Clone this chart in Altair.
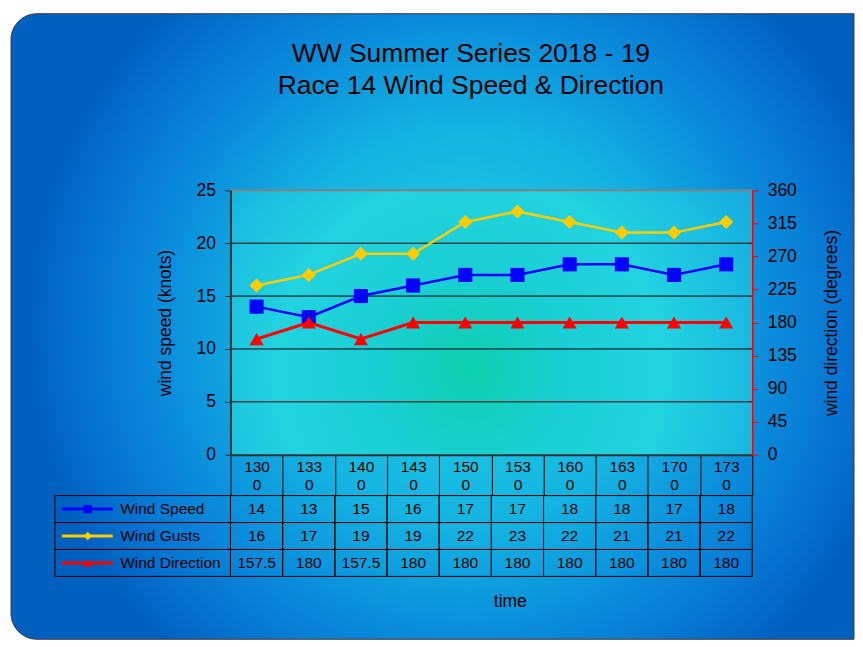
import altair as alt
import pandas as pd

# ---------------- data ----------------
times = ["1300", "1330", "1400", "1430", "1500", "1530", "1600", "1630", "1700", "1730"]
wind_speed = [14, 13, 15, 16, 17, 17, 18, 18, 17, 18]
wind_gusts = [16, 17, 19, 19, 22, 23, 22, 21, 21, 22]
wind_direction = [157.5, 180, 157.5, 180, 180, 180, 180, 180, 180, 180]
series_names = ["Wind Speed", "Wind Gusts", "Wind Direction"]
speed_ticks = [0, 5, 10, 15, 20, 25]
direction_ticks = [0, 45, 90, 135, 180, 225, 270, 315, 360]
title_lines = ["WW Summer Series 2018 - 19", "Race 14 Wind Speed & Direction"]
x_title = "time"
y_title = "wind speed (knots)"
y2_title = "wind direction (degrees)"

# ---------------- styles ----------------
FONT = "Liberation Sans"
series_colors = ["#0000ff", "#ffcc00", "#ff0000"]
series_shapes = ["square", "diamond", "triangle-up"]
W, H = 523, 265
ROW_H = 27
HEADER_H = 41

speed_long = pd.DataFrame({
    "time": times * 2,
    "series": ["Wind Speed"] * len(times) + ["Wind Gusts"] * len(times),
    "value": wind_speed + wind_gusts,
})
dir_df = pd.DataFrame({"time": times, "series": "Wind Direction", "value": wind_direction})
grid_df = pd.DataFrame({
    "v": speed_ticks[1:],
    "c": ["#000000"] * (len(speed_ticks) - 2) + ["#808080"],
    "w": [1] * (len(speed_ticks) - 2) + [2],
})
table_df = pd.DataFrame({
    "time": times * 3,
    "series": [s for s in series_names for _ in times],
    "label": [f"{v:g}" for v in wind_speed + wind_gusts + wind_direction],
})
legend_df = pd.DataFrame({"series": series_names})
one = pd.DataFrame({"k": [0]})

# ---------------- scales / axes ----------------
x_scale = alt.Scale(type="band", domain=times, paddingInner=0, paddingOuter=0)
speed_scale = alt.Scale(domain=[0, 25], nice=False)
dir_scale = alt.Scale(domain=[0, 360], nice=False)
color_scale = alt.Scale(domain=series_names, range=series_colors)
shape_scale = alt.Scale(domain=series_names, range=series_shapes)

x_axis = alt.Axis(
    title=None, labelExpr="[slice(datum.label,0,3), slice(datum.label,3)]",
    labelAngle=0, labelFontSize=15.5, labelLineHeight=18, labelBaseline="top",
    labelPadding=-36, labelOverlap=False, labelFlush=False,
    tickBand="extent", tickSize=HEADER_H, tickColor="#000000", tickWidth=1,
    domainColor="#333333", domainWidth=2, grid=False, zindex=1,
)
y_axis = alt.Axis(
    title=y_title, values=speed_ticks, orient="left", grid=False,
    domainColor="#333333", domainWidth=2, tickColor="#333333", tickSize=6,
    labelPadding=9, labelFontSize=17.5, titleFontSize=17.5, titlePadding=22, zindex=1,
)
y2_axis = alt.Axis(
    title=y2_title, values=direction_ticks, orient="right", grid=False,
    domainColor="#ff0000", domainWidth=1.5, tickColor="#ff0000", tickSize=6,
    labelPadding=9, labelFontSize=17.5, titleFontSize=17.5, titleAngle=270,
    titleBaseline="top", titlePadding=26, zindex=1,
)

X = alt.X("time:N", scale=x_scale, axis=x_axis)

outer_grad = alt.Gradient(
    gradient="radial", x1=0.54, y1=0.5, r1=0, x2=0.54, y2=0.5, r2=0.52,
    stops=[
        alt.GradientStop(offset=0, color="#25d5e3"),
        alt.GradientStop(offset=0.45, color="#14b4e2"),
        alt.GradientStop(offset=0.7, color="#0a8cdc"),
        alt.GradientStop(offset=0.88, color="#0672d0"),
        alt.GradientStop(offset=1, color="#0060c0"),
    ],
)
plot_grad = alt.Gradient(
    gradient="radial", x1=0.46, y1=0.59, r1=0, x2=0.46, y2=0.59, r2=0.62,
    stops=[
        alt.GradientStop(offset=0, color="#0ccfae"),
        alt.GradientStop(offset=0.3, color="#1acfd4"),
        alt.GradientStop(offset=0.6, color="#22d3e0"),
        alt.GradientStop(offset=1, color="#16aee0"),
    ],
)

# ---------------- top chart ----------------
bg = alt.Chart(one).mark_rect(
    cornerRadiusTopLeft=26, cornerRadiusBottomLeft=26,
    stroke="#3a3a3a", strokeWidth=1, fill=outer_grad,
).encode(x=alt.value(-220), x2=alt.value(625), y=alt.value(-177), y2=alt.value(450))

plot_bg = alt.Chart(one).mark_rect(fill=plot_grad).encode(
    x=alt.value(0), x2=alt.value(W), y=alt.value(0), y2=alt.value(H)
)

t1 = alt.Chart(one).mark_text(text=title_lines[0], font=FONT, fontSize=26.5, color="black").encode(
    x=alt.value(241), y=alt.value(-137))
t2 = alt.Chart(one).mark_text(text=title_lines[1], font=FONT, fontSize=26.5, color="black").encode(
    x=alt.value(241), y=alt.value(-105))

grid = alt.Chart(grid_df).mark_rule().encode(
    y=alt.Y("v:Q", scale=speed_scale, axis=y_axis),
    x=alt.value(0), x2=alt.value(W),
    stroke=alt.Stroke("c:N", scale=None),
    strokeWidth=alt.StrokeWidth("w:Q", scale=None),
)
Y1 = alt.Y("value:Q", scale=speed_scale, axis=y_axis)
speed_lines = alt.Chart(speed_long).mark_line(strokeWidth=2.5).encode(
    x=X, y=Y1, color=alt.Color("series:N", scale=color_scale, legend=None))
speed_pts = alt.Chart(speed_long).mark_point(filled=True, opacity=1, size=200).encode(
    x=X, y=Y1, color=alt.Color("series:N", scale=color_scale, legend=None),
    shape=alt.Shape("series:N", scale=shape_scale, legend=None))
left_layer = alt.layer(grid, speed_lines, speed_pts)

Y2 = alt.Y("value:Q", scale=dir_scale, axis=y2_axis)
dir_line = alt.Chart(dir_df).mark_line(color="#ff0000", strokeWidth=3).encode(x=X, y=Y2)
dir_pts = alt.Chart(dir_df).mark_point(filled=True, opacity=1, size=200, shape="triangle-up",
                                       color="#ff0000").encode(x=X, y=Y2)
right_layer = alt.layer(dir_line, dir_pts)

top = alt.layer(bg, plot_bg, t1, t2, left_layer, right_layer).resolve_scale(
    y="independent").properties(width=W, height=H)

# ---------------- data table ----------------
tx = alt.X("time:N", scale=x_scale, axis=alt.Axis(
    title=x_title, labels=False, ticks=False, domain=False, grid=False,
    titleFontSize=17.5, titlePadding=16, titleX=280))
ty = alt.Y("series:N", scale=alt.Scale(domain=series_names, paddingInner=0, paddingOuter=0),
           axis=alt.Axis(title=None, labelAlign="left", labelPadding=111, ticks=False, tickSize=0,
                         domain=False, grid=False, labelFontSize=15.5))

cells = alt.Chart(table_df).mark_rect(fill="transparent", stroke="black", strokeWidth=1).encode(x=tx, y=ty)
cell_text = alt.Chart(table_df).mark_text(fontSize=15.5, color="black", font=FONT).encode(
    x=tx, y=ty, text="label:N")
legend_cells = alt.Chart(legend_df).mark_rect(fill="transparent", stroke="black", strokeWidth=1).encode(
    x=alt.value(-176), x2=alt.value(0), y=ty)
legend_lines = alt.Chart(legend_df).mark_rule(strokeWidth=3).encode(
    x=alt.value(-169), x2=alt.value(-118), y=ty,
    color=alt.Color("series:N", scale=color_scale, legend=None))
legend_pts = alt.Chart(legend_df).mark_point(filled=True, opacity=1, size=70).encode(
    x=alt.value(-143), y=ty,
    color=alt.Color("series:N", scale=color_scale, legend=None),
    shape=alt.Shape("series:N", scale=shape_scale, legend=None))

table = alt.layer(cells, cell_text, legend_cells, legend_lines, legend_pts).properties(
    width=W, height=ROW_H * len(series_names))

chart = alt.vconcat(top, table, spacing=HEADER_H, bounds="flush").properties(
    padding={"left": 2, "top": 4, "right": 0, "bottom": 0}, background="white",
).configure_view(stroke=None).configure_axis(
    labelColor="black", titleColor="black", labelFont=FONT, titleFont=FONT,
    titleFontWeight="normal",
).configure_text(font=FONT)

chart.save("out.html", embed_options={"renderer": "svg", "actions": False})
